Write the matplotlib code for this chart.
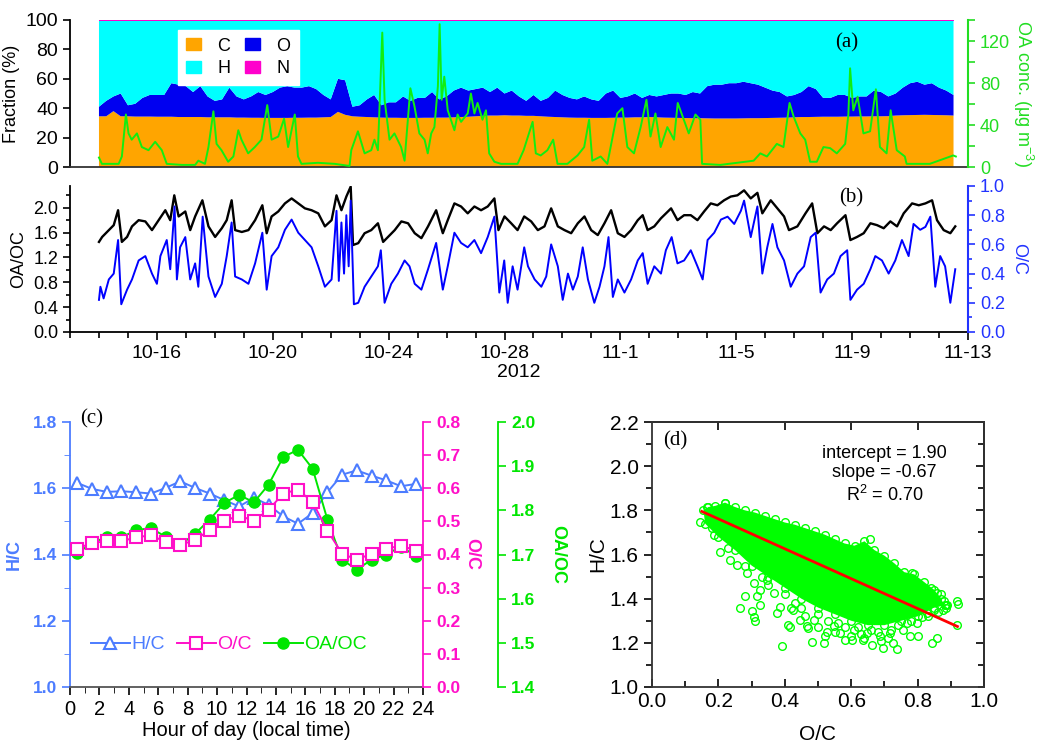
import numpy as np
import matplotlib.pyplot as plt
from matplotlib.patches import Patch
from matplotlib.ticker import MultipleLocator, FixedLocator, FormatStrFormatter

plt.rcParams['font.family'] = ['Liberation Sans', 'DejaVu Sans']
plt.rcParams['mathtext.fontset'] = 'custom'
plt.rcParams['mathtext.rm'] = 'Liberation Sans'
plt.rcParams['axes.linewidth'] = 1.3
SERIF = ['Liberation Serif', 'DejaVu Serif']

# ---------------- panel (a): elemental fractions (6-hourly, from Oct 14 00:00) ----------------
o_top = [41, 45, 48, 50, 42, 43, 47, 49, 49, 49,
         57, 56, 55, 51, 55, 48, 45, 46, 54, 48,
         46, 48, 51, 49, 51, 54, 55, 54, 54, 55,
         53, 49, 46, 60, 59, 41, 42, 46, 49, 42,
         44, 44, 48, 45, 47, 47, 51, 46, 48, 52,
         54, 52, 53, 54, 51, 54, 50, 52, 48, 45,
         49, 45, 47, 52, 49, 47, 46, 48, 46, 45,
         50, 52, 47, 48, 50, 47, 49, 48, 49, 50,
         50, 49, 51, 50, 55, 56, 56, 57, 57, 58,
         57, 56, 54, 52, 51, 48, 49, 51, 55, 53,
         47, 47, 49, 49, 47, 48, 48, 52, 51, 48,
         50, 54, 57, 58, 56, 57, 54, 52, 49]
c_frac = [34.5, 34.5, 38.0, 34.5, 34.5, 34.3, 34.3, 34.3, 34.2, 34.2,
          34.2, 34.0, 34.0, 34.0, 34.0, 33.8, 33.8, 33.8, 33.8, 33.6,
          33.6, 33.5, 33.5, 33.4, 33.4, 33.4, 33.4, 33.5, 33.5, 33.6,
          33.6, 33.8, 34.0, 37.5, 35.5, 34.5, 34.2, 34.0, 33.8, 33.6,
          33.5, 33.5, 33.4, 33.4, 33.4, 33.5, 33.5, 33.6, 33.6, 33.8,
          34.0, 34.2, 34.5, 34.8, 35.0, 35.0, 35.2, 35.0, 35.0, 34.8,
          34.8, 34.5, 34.2, 34.0, 33.8, 33.6, 33.5, 33.5, 33.4, 33.4,
          33.4, 33.5, 33.6, 33.6, 33.8, 33.8, 34.0, 33.8, 33.6, 33.5,
          33.4, 33.3, 33.2, 33.2, 33.1, 33.0, 33.0, 33.0, 33.0, 33.1,
          33.2, 33.2, 33.3, 33.4, 33.5, 33.6, 33.8, 34.0, 34.0, 34.1,
          34.2, 34.2, 34.2, 34.3, 34.3, 34.4, 34.4, 34.5, 34.5, 34.6,
          35.0, 35.2, 35.3, 35.4, 35.5, 35.4, 35.3, 35.2, 35.0]
n_frac = 0.6

# time axis: day number counted from Oct 0 (Nov 1 = 32)
oa_t = [14.0, 14.1, 14.68, 14.79, 14.93, 15.02, 15.13, 15.31, 15.48, 15.71,
        15.94, 16.17, 16.34, 16.86, 17.32, 17.43, 17.66, 17.78, 17.95, 18.06,
        18.23, 18.46, 18.64, 18.81, 18.92, 19.15, 19.38, 19.61, 19.81, 19.96,
        20.19, 20.39, 20.53, 20.76, 20.87, 20.99, 21.56, 22.14, 22.65, 22.71,
        22.94, 23.17, 23.40, 23.51, 23.63, 23.78, 23.86, 24.03, 24.20, 24.43,
        24.55, 24.75, 24.89, 25.06, 25.24, 25.35, 25.47, 25.58, 25.70, 25.76,
        25.83, 25.92, 26.04, 26.15, 26.27, 26.38, 26.50, 26.73, 26.84, 26.96,
        27.07, 27.24, 27.36, 27.47, 27.65, 27.88, 28.45, 28.66, 28.97, 29.08,
        29.25, 29.48, 29.68, 29.83, 30.17, 30.52, 30.75, 30.92, 31.03, 31.32,
        31.55, 31.89, 32.07, 32.24, 32.47, 32.70, 32.90, 33.04, 33.21, 33.39,
        33.62, 33.85, 33.98, 34.19, 34.36, 34.59, 34.76, 34.82, 35.45, 36.03,
        36.60, 36.83, 37.06, 37.40, 37.63, 37.84, 37.98, 38.21, 38.38, 38.55,
        38.78, 39.01, 39.24, 39.47, 39.76, 39.87, 39.93, 40.04, 40.19, 40.39,
        40.62, 40.82, 40.96, 41.19, 41.33, 41.54, 41.82, 41.88, 42.68, 43.49,
        43.58]
oa_conc = [9, 3, 3, 10, 50, 32, 26, 32, 19, 16,
           24, 16, 3, 2, 2, 6, 3, 19, 53, 22,
           16, 5, 10, 35, 26, 13, 19, 26, 59, 26,
           29, 46, 19, 50, 10, 3, 4, 3, 1, 16,
           34, 13, 16, 26, 16, 128, 64, 26, 32, 19,
           6, 75, 58, 32, 26, 13, 32, 38, 77, 136,
           64, 86, 54, 45, 35, 50, 43, 51, 70, 51,
           61, 45, 54, 13, 5, 3, 3, 16, 43, 13,
           11, 16, 26, 3, 3, 11, 19, 45, 6, 10,
           3, 51, 56, 19, 13, 38, 64, 29, 51, 19,
           38, 26, 61, 45, 32, 50, 45, 3, 2, 4,
           6, 13, 10, 22, 19, 61, 48, 32, 26, 5,
           5, 19, 18, 13, 22, 50, 94, 54, 67, 32,
           34, 74, 19, 13, 54, 16, 10, 3, 3, 11,
           10]

# ---------------- panel (b): OA/OC and O/C time series ----------------
oaoc_t = [14.0, 14.11, 14.34, 14.51, 14.66, 14.79, 14.97, 15.14, 15.37, 15.60,
          15.83, 16.06, 16.29, 16.46, 16.60, 16.75, 16.98, 17.15, 17.32, 17.57,
          17.78, 18.01, 18.24, 18.41, 18.58, 18.70, 18.93, 19.16, 19.39, 19.64,
          19.79, 19.96, 20.19, 20.42, 20.65, 20.88, 21.11, 21.34, 21.57, 21.80,
          22.03, 22.20, 22.37, 22.54, 22.69, 22.77, 22.95, 23.17, 23.40, 23.63,
          23.81, 23.98, 24.21, 24.44, 24.67, 24.90, 25.13, 25.36, 25.64, 25.87,
          26.04, 26.27, 26.50, 26.73, 26.96, 27.19, 27.42, 27.65, 27.79, 28.00,
          28.23, 28.45, 28.68,
          28.92, 29.15, 29.38, 29.61, 29.84, 30.07, 30.30, 30.53, 30.76, 30.99,
          31.22, 31.45, 31.68, 31.91, 32.14, 32.37, 32.60, 32.77, 32.94, 33.17,
          33.40, 33.75, 33.97, 34.20, 34.43, 34.66, 34.89, 35.12, 35.35, 35.58,
          35.81, 36.04, 36.27, 36.50, 36.73, 36.90, 37.19, 37.42, 37.65, 37.82,
          38.11, 38.39, 38.62, 38.80, 39.03, 39.26, 39.48, 39.77, 39.94, 40.17,
          40.40, 40.63, 40.86, 41.09, 41.32, 41.55, 41.78, 42.07, 42.30, 42.53,
          42.76, 42.93, 43.16, 43.39, 43.56]
oaoc = [1.45, 1.53, 1.64, 1.72, 1.96, 1.45, 1.53, 1.70, 1.80, 1.78,
        1.64, 1.80, 1.96, 1.80, 2.20, 1.86, 1.94, 1.64, 1.86, 2.12,
        1.70, 1.53, 1.67, 1.80, 2.12, 1.64, 1.61, 1.64, 1.80, 2.04,
        1.59, 1.86, 1.94, 2.07, 2.15, 2.07, 1.99, 1.96, 1.91, 1.70,
        1.80, 2.20, 1.96, 2.18, 2.34, 1.40, 1.43, 1.59, 1.64, 1.75,
        1.45, 1.53, 1.64, 1.78, 1.75, 1.59, 1.51, 1.70, 1.96, 1.59,
        1.80, 2.07, 2.02, 1.91, 2.02, 1.96, 2.02, 2.15, 1.64, 1.86,
        1.75, 1.64, 1.86,
        1.78, 1.64, 1.70, 1.99, 1.70, 1.64, 1.59, 1.75, 1.86, 1.64,
        1.56, 1.75, 1.96, 1.59, 1.53, 1.64, 1.80, 1.88, 1.64, 1.70,
        1.83, 1.99, 1.80, 1.88, 1.88, 1.80, 1.94, 2.07, 2.04, 2.12,
        2.18, 2.20, 2.28, 2.15, 2.24, 1.91, 2.12, 1.99, 1.86, 1.64,
        1.70, 1.91, 2.07, 1.59, 1.70, 1.64, 1.75, 1.88, 1.48, 1.53,
        1.59, 1.75, 1.72, 1.67, 1.78, 1.70, 1.91, 2.07, 2.04, 2.07,
        2.12, 1.80, 1.64, 1.59, 1.70]
oc_t = [14.0, 14.05, 14.16, 14.34, 14.51, 14.66, 14.77, 14.97, 15.14, 15.37,
        15.60, 15.83, 16.00, 16.12, 16.34, 16.46, 16.61, 16.69, 16.80, 16.98,
        17.15, 17.32, 17.43, 17.58, 17.78, 18.01, 18.24, 18.41, 18.58, 18.70,
        18.93, 19.16, 19.39, 19.64, 19.79, 19.96, 20.19, 20.42, 20.65, 20.88,
        21.11, 21.34, 21.57, 21.80, 22.03, 22.20, 22.28, 22.37, 22.46, 22.54,
        22.62, 22.69, 22.80, 22.95, 23.17, 23.40, 23.63, 23.73, 23.86, 24.09,
        24.32, 24.55, 24.72, 24.90, 25.13, 25.36, 25.64, 25.87, 26.04, 26.27,
        26.50, 26.73, 26.96, 27.19, 27.42, 27.65, 27.82, 27.99, 28.11, 28.28,
        28.45, 28.68,
        28.81, 29.04, 29.27, 29.44, 29.61, 29.84, 30.01, 30.19, 30.36, 30.53,
        30.70, 30.88, 31.10, 31.28, 31.45, 31.59, 31.74, 31.91, 32.14, 32.37,
        32.60, 32.77, 32.94, 33.17, 33.40, 33.57, 33.77, 33.97, 34.20, 34.43,
        34.66, 34.84, 35.01, 35.24, 35.47, 35.70, 35.93, 36.16, 36.27, 36.50,
        36.73, 36.90, 37.07, 37.25, 37.42, 37.65, 37.88, 38.11, 38.34, 38.57,
        38.74, 38.91, 39.14, 39.37, 39.60, 39.83, 39.94, 40.17, 40.40, 40.63,
        40.80, 41.03, 41.26, 41.49, 41.72, 41.95, 42.12, 42.35, 42.53, 42.70,
        42.87, 43.04, 43.21, 43.39, 43.56]
oc = [0.22, 0.31, 0.23, 0.36, 0.40, 0.63, 0.19, 0.29, 0.36, 0.49,
      0.52, 0.40, 0.33, 0.52, 0.63, 0.43, 0.86, 0.36, 0.58, 0.65,
      0.36, 0.47, 0.31, 0.79, 0.38, 0.24, 0.33, 0.52, 0.75, 0.38,
      0.36, 0.33, 0.47, 0.68, 0.29, 0.52, 0.58, 0.70, 0.77, 0.68,
      0.63, 0.58, 0.45, 0.31, 0.36, 0.83, 0.35, 0.75, 0.40, 0.80,
      0.45, 0.90, 0.19, 0.20, 0.31, 0.38, 0.45, 0.56, 0.20, 0.33,
      0.40, 0.49, 0.45, 0.33, 0.29, 0.43, 0.61, 0.29, 0.45, 0.68,
      0.61, 0.58, 0.63, 0.54, 0.65, 0.79, 0.27, 0.49, 0.20, 0.45,
      0.29, 0.58,
      0.45, 0.36, 0.31, 0.38, 0.60, 0.45, 0.22, 0.40, 0.29, 0.38,
      0.58, 0.36, 0.20, 0.31, 0.45, 0.65, 0.24, 0.36, 0.27, 0.36,
      0.49, 0.54, 0.33, 0.45, 0.40, 0.56, 0.65, 0.47, 0.49, 0.56,
      0.45, 0.36, 0.63, 0.68, 0.77, 0.79, 0.74, 0.83, 0.90, 0.65,
      0.86, 0.40, 0.58, 0.74, 0.58, 0.49, 0.31, 0.40, 0.45, 0.65,
      0.68, 0.27, 0.36, 0.40, 0.52, 0.56, 0.22, 0.29, 0.33, 0.43,
      0.52, 0.49, 0.40, 0.49, 0.63, 0.52, 0.74, 0.70, 0.72, 0.79,
      0.31, 0.52, 0.45, 0.20, 0.43]
date_ticks = [16, 20, 24, 28, 32, 36, 40, 44]
date_labels = ['10-16', '10-20', '10-24', '10-28', '11-1', '11-5', '11-9', '11-13']

# ---------------- panel (c): diurnal cycles ----------------
hours = [0.5, 1.5, 2.5, 3.5, 4.5, 5.5, 6.5, 7.5, 8.5, 9.5, 10.5, 11.5,
         12.5, 13.5, 14.5, 15.5, 16.5, 17.5, 18.5, 19.5, 20.5, 21.5, 22.5, 23.5]
hc_diurnal = [1.616, 1.598, 1.589, 1.591, 1.588, 1.584, 1.601, 1.621, 1.601, 1.584, 1.564, 1.545,
              1.571, 1.550, 1.515, 1.493, 1.525, 1.588, 1.641, 1.654, 1.638, 1.624, 1.606, 1.613]
oc_diurnal = [0.418, 0.435, 0.440, 0.440, 0.452, 0.458, 0.438, 0.428, 0.445, 0.473, 0.502, 0.517,
              0.502, 0.535, 0.584, 0.596, 0.558, 0.472, 0.403, 0.384, 0.403, 0.417, 0.427, 0.412]
oaoc_diurnal = [1.703, 1.726, 1.740, 1.739, 1.755, 1.760, 1.740, 1.722, 1.747, 1.779, 1.817, 1.835,
                1.818, 1.858, 1.921, 1.937, 1.894, 1.779, 1.688, 1.666, 1.688, 1.700, 1.718, 1.697]

# ---------------- panel (d): van Krevelen scatter ----------------
cloud_top_x = [0.155, 0.17, 0.19, 0.22, 0.25, 0.28, 0.31, 0.34, 0.37, 0.40, 0.43, 0.46, 0.49, 0.52,
               0.55, 0.58, 0.61, 0.64, 0.67, 0.70, 0.73, 0.76, 0.79, 0.82, 0.85, 0.87, 0.885]
cloud_top_y = [1.80, 1.815, 1.82, 1.835, 1.815, 1.80, 1.79, 1.775, 1.76, 1.745, 1.735, 1.72, 1.705, 1.69,
               1.67, 1.65, 1.64, 1.66, 1.62, 1.595, 1.56, 1.52, 1.51, 1.475, 1.44, 1.40, 1.36]
cloud_low_x = [0.16, 0.20, 0.25, 0.30, 0.35, 0.40, 0.45, 0.50, 0.55, 0.60, 0.65, 0.70, 0.75, 0.80, 0.85, 0.885]
cloud_low_y = [1.74, 1.68, 1.62, 1.55, 1.50, 1.45, 1.40, 1.36, 1.33, 1.30, 1.28, 1.28, 1.30, 1.32, 1.36, 1.37]
sparse_x = [0.145, 0.166, 0.186, 0.206, 0.221, 0.236, 0.256, 0.286, 0.306, 0.326,
            0.346, 0.366, 0.281, 0.316, 0.266, 0.301, 0.306, 0.311, 0.324, 0.391,
            0.376, 0.386, 0.416, 0.411, 0.426, 0.446, 0.466, 0.471, 0.487, 0.481,
            0.517, 0.522, 0.527, 0.547, 0.567, 0.582, 0.602, 0.607, 0.637, 0.647,
            0.662, 0.687, 0.697, 0.717, 0.727, 0.737, 0.757, 0.767, 0.777, 0.797,
            0.802, 0.812, 0.827, 0.843, 0.848, 0.858, 0.858, 0.878, 0.883, 0.918,
            0.923, 0.918, 0.782, 0.657, 0.40, 0.43, 0.45, 0.50, 0.53, 0.56,
            0.58, 0.62, 0.66, 0.68, 0.72, 0.74, 0.78, 0.83, 0.86, 0.88,
            0.87, 0.84, 0.89, 0.35, 0.33, 0.28, 0.23, 0.18, 0.60, 0.63,
            0.69, 0.71, 0.64, 0.55, 0.50, 0.46, 0.42]
sparse_y = [1.749, 1.816, 1.688, 1.613, 1.834, 1.575, 1.553, 1.518, 1.470, 1.440,
            1.485, 1.425, 1.413, 1.413, 1.357, 1.342, 1.316, 1.301, 1.372, 1.184,
            1.334, 1.364, 1.271, 1.282, 1.349, 1.304, 1.274, 1.266, 1.304, 1.206,
            1.199, 1.229, 1.251, 1.274, 1.244, 1.214, 1.214, 1.259, 1.214, 1.244,
            1.191, 1.229, 1.176, 1.244, 1.199, 1.172, 1.259, 1.289, 1.229, 1.289,
            1.229, 1.319, 1.334, 1.199, 1.349, 1.221, 1.425, 1.349, 1.372, 1.390,
            1.377, 1.282, 1.515, 1.669, 1.42, 1.38, 1.36, 1.33, 1.30, 1.29,
            1.27, 1.27, 1.26, 1.25, 1.26, 1.28, 1.30, 1.32, 1.34, 1.39,
            1.42, 1.45, 1.37, 1.46, 1.50, 1.55, 1.63, 1.72, 1.23, 1.24,
            1.21, 1.22, 1.22, 1.25, 1.27, 1.32, 1.36]
fit_x = [0.15, 0.92]
fit_y = [1.795, 1.274]

COL_C = '#FFA500'
COL_O = '#0000F0'
COL_H = '#00FFFF'
COL_N = '#FF00CC'
COL_GREEN = '#11EE11'
COL_GREEN_TXT = '#22DD22'
COL_HC = '#4C7CFF'
COL_OC = '#FF10C8'
COL_OAOC = '#00E600'

W, H = 1051, 745


def box(left, top, right, bottom):
    return [left / W, 1 - bottom / H, (right - left) / W, (bottom - top) / H]


def colour_axis(ax, side, color):
    ax.spines[side].set_color(color)
    ax.tick_params(axis='y', which='both', colors=color)


fig = plt.figure(figsize=(10.51, 7.45), dpi=100)

# ---- (a)
ax_a = fig.add_axes(box(70, 20, 968, 167))
t_grid = 14 + 0.25 * np.arange(len(o_top))
c_arr = np.array(c_frac)
o_arr = np.array(o_top) - c_arr
n_arr = np.full(len(c_arr), n_frac)
h_arr = 100 - c_arr - o_arr - n_arr
ax_a.stackplot(t_grid, c_arr, o_arr, h_arr, n_arr, colors=[COL_C, COL_O, COL_H, COL_N], linewidth=0)
ax_a.set_xlim(13, 44)
ax_a.set_ylim(0, 100)
ax_a.set_yticks(range(0, 101, 20))
ax_a.set_xticks([])
ax_a.tick_params(axis='y', labelsize=14, length=5, width=1.2)
ax_a.set_ylabel('Fraction (%)', fontsize=13, labelpad=4)
ax_a.spines['top'].set_visible(False)
ax_a.spines['right'].set_visible(False)
ax_a.spines['bottom'].set_color('#333333')

ax_a2 = ax_a.twinx()
ax_a2.plot(oa_t, oa_conc, color=COL_GREEN, lw=1.4)
ax_a2.set_ylim(0, 140)
ax_a2.set_yticks([0, 40, 80, 120])
ax_a2.yaxis.set_minor_locator(FixedLocator([20, 60, 100, 140]))
for s in ('top', 'left', 'bottom'):
    ax_a2.spines[s].set_visible(False)
colour_axis(ax_a2, 'right', COL_GREEN_TXT)
ax_a2.spines['right'].set_linewidth(1.5)
ax_a2.tick_params(axis='y', labelsize=13, length=5, width=1.2)
ax_a2.tick_params(axis='y', which='minor', length=5, width=1.2)
ax_a2.set_ylabel('OA conc. (μg m$^{-3}$)', fontsize=13, color=COL_GREEN_TXT, rotation=270, labelpad=18)
ax_a2.text(0.865, 0.843, '(a)', transform=ax_a2.transAxes, family=SERIF, fontsize=15,
           ha='center', va='center')
handles = [Patch(color=COL_C), Patch(color=COL_H), Patch(color=COL_O), Patch(color=COL_N)]
ax_a2.legend(handles, ['C', 'H', 'O', 'N'], ncol=2, loc='upper left',
             bbox_to_anchor=(0.12, 0.935), frameon=True, fancybox=False, framealpha=1,
             facecolor='white', edgecolor='white', fontsize=13, handlelength=0.85,
             handleheight=0.65, handletextpad=0.9, columnspacing=0.8, borderpad=0.45,
             labelspacing=0.3, borderaxespad=0)

# ---- (b)
ax_b = fig.add_axes(box(70, 186, 968, 332))
ax_b.plot(oaoc_t, oaoc, color='black', lw=1.7)
ax_b.set_xlim(13, 44)
ax_b.set_ylim(0, 2.35)
ax_b.set_yticks([0.0, 0.4, 0.8, 1.2, 1.6, 2.0])
ax_b.yaxis.set_major_formatter(FormatStrFormatter('%.1f'))
ax_b.yaxis.set_minor_locator(MultipleLocator(0.2))
ax_b.set_xticks(date_ticks)
ax_b.set_xticklabels(date_labels)
ax_b.xaxis.set_minor_locator(MultipleLocator(1))
ax_b.tick_params(axis='x', labelsize=14, length=6, width=1.2)
ax_b.tick_params(axis='x', which='minor', length=4, width=1.2)
ax_b.tick_params(axis='y', labelsize=13, length=5, width=1.2)
ax_b.tick_params(axis='y', which='minor', length=3, width=1.2)
ax_b.set_xlabel('2012', fontsize=14, labelpad=1)
ax_b.set_ylabel('OA/OC', fontsize=13, labelpad=4)
ax_b.spines['top'].set_visible(False)
ax_b.spines['right'].set_visible(False)

ax_b2 = ax_b.twinx()
ax_b2.plot(oc_t, oc, color='#0000FF', lw=1.4)
ax_b2.set_ylim(0, 1.0)
ax_b2.set_yticks([0.0, 0.2, 0.4, 0.6, 0.8, 1.0])
ax_b2.yaxis.set_major_formatter(FormatStrFormatter('%.1f'))
ax_b2.yaxis.set_minor_locator(MultipleLocator(0.1))
for s in ('top', 'left', 'bottom'):
    ax_b2.spines[s].set_visible(False)
colour_axis(ax_b2, 'right', '#2233FF')
ax_b2.spines['right'].set_linewidth(1.5)
ax_b2.tick_params(axis='y', labelsize=13, length=5, width=1.2)
ax_b2.tick_params(axis='y', which='minor', length=3, width=1.2)
ax_b2.set_ylabel('O/C', fontsize=13, color='#2233FF', rotation=270, labelpad=16)
ax_b2.text(0.87, 0.918, '(b)', transform=ax_b2.transAxes, family=SERIF, fontsize=15,
           ha='center', va='center')

# ---- (c)
ax_c = fig.add_axes(box(70, 422, 423, 687))
l_hc, = ax_c.plot(hours, hc_diurnal, color=COL_HC, marker='^', ms=8, mfc='white', mew=1.5,
                  lw=1.4, label='H/C')
ax_c.set_xlim(0, 24)
ax_c.set_ylim(1.0, 1.8)
ax_c.set_xticks(range(0, 25, 2))
ax_c.xaxis.set_minor_locator(MultipleLocator(1))
ax_c.set_yticks([1.0, 1.2, 1.4, 1.6, 1.8])
ax_c.yaxis.set_major_formatter(FormatStrFormatter('%.1f'))
ax_c.yaxis.set_minor_locator(MultipleLocator(0.1))
ax_c.spines['top'].set_visible(False)
ax_c.spines['right'].set_visible(False)
ax_c.spines['bottom'].set_color('#555555')
colour_axis(ax_c, 'left', COL_HC)
ax_c.tick_params(axis='y', labelsize=12.5, length=6, width=1.2)
ax_c.tick_params(axis='y', which='minor', length=4)
ax_c.tick_params(axis='x', labelsize=14.5, length=6, width=1.2, colors='black')
ax_c.tick_params(axis='x', which='minor', length=4)
for lab in ax_c.get_yticklabels():
    lab.set_fontweight('bold')
ax_c.set_ylabel('H/C', fontsize=13, color=COL_HC, fontweight='bold', labelpad=7)
ax_c.set_xlabel('Hour of day (local time)', fontsize=14.5, labelpad=1)
ax_c.text(0.062, 1.011, '(c)', transform=ax_c.transAxes, family=SERIF, fontsize=15,
          ha='center', va='center')

ax_c3 = ax_c.twinx()
l_oaoc, = ax_c3.plot(hours, oaoc_diurnal, color=COL_OAOC, marker='o', ms=8, lw=1.4, label='OA/OC')
ax_c3.set_ylim(1.4, 2.0)
ax_c3.set_yticks([1.4, 1.5, 1.6, 1.7, 1.8, 1.9, 2.0])
ax_c3.yaxis.set_major_formatter(FormatStrFormatter('%.1f'))
ax_c3.spines['right'].set_position(('outward', 54))
for s in ('top', 'left', 'bottom'):
    ax_c3.spines[s].set_visible(False)
colour_axis(ax_c3, 'right', COL_OAOC)
ax_c3.tick_params(axis='y', labelsize=12.5, length=6, width=1.2)
for lab in ax_c3.get_yticklabels():
    lab.set_fontweight('bold')
ax_c3.set_ylabel('OA/OC', fontsize=13, color=COL_OAOC, fontweight='bold', rotation=270, labelpad=22)

ax_c2 = ax_c.twinx()
l_oc, = ax_c2.plot(hours, oc_diurnal, color=COL_OC, marker='s', ms=8, mfc='white', mew=1.5,
                   lw=1.4, label='O/C')
ax_c2.set_ylim(0, 0.8)
ax_c2.set_yticks([0.0, 0.1, 0.2, 0.3, 0.4, 0.5, 0.6, 0.7, 0.8])
ax_c2.yaxis.set_major_formatter(FormatStrFormatter('%.1f'))
for s in ('top', 'left', 'bottom'):
    ax_c2.spines[s].set_visible(False)
colour_axis(ax_c2, 'right', COL_OC)
ax_c2.tick_params(axis='y', labelsize=12.5, length=6, width=1.2)
for lab in ax_c2.get_yticklabels():
    lab.set_fontweight('bold')
ax_c2.set_ylabel('O/C', fontsize=13, color=COL_OC, fontweight='bold', rotation=270, labelpad=14)
ax_c3.set_zorder(ax_c.get_zorder() + 1)
ax_c2.set_zorder(ax_c.get_zorder() + 2)
ax_c2.legend([l_hc, l_oc, l_oaoc], ['H/C', 'O/C', 'OA/OC'], ncol=3, loc='center',
             bbox_to_anchor=(0.45, 0.16), frameon=False, fontsize=14, handlelength=2.0,
             handletextpad=0.1, columnspacing=0.6, labelcolor='linecolor')

# ---- (d)
ax_d = fig.add_axes(box(652, 422, 984, 687))
ax_d.fill(cloud_top_x + cloud_low_x[::-1], cloud_top_y + cloud_low_y[::-1],
          color='#00FF00', lw=0)
for xs, ys in ((cloud_top_x, cloud_top_y), (cloud_low_x, cloud_low_y), (sparse_x, sparse_y)):
    ax_d.plot(xs, ys, ls='none', marker='o', ms=5.5, mfc='none', mec='#00FF00', mew=1.0)
ax_d.plot(fit_x, fit_y, color='#FF0000', lw=2)
ax_d.set_xlim(0, 1.0)
ax_d.set_ylim(1.0, 2.2)
ax_d.set_xticks([0.0, 0.2, 0.4, 0.6, 0.8, 1.0])
ax_d.set_yticks([1.0, 1.2, 1.4, 1.6, 1.8, 2.0, 2.2])
ax_d.xaxis.set_major_formatter(FormatStrFormatter('%.1f'))
ax_d.yaxis.set_major_formatter(FormatStrFormatter('%.1f'))
ax_d.xaxis.set_minor_locator(MultipleLocator(0.1))
ax_d.yaxis.set_minor_locator(MultipleLocator(0.1))
ax_d.tick_params(axis='x', direction='in', labelsize=15, length=6, width=1.2)
ax_d.tick_params(axis='x', which='minor', direction='in', length=4, width=1.2)
ax_d.tick_params(axis='y', direction='out', labelsize=15, length=6, width=1.2)
ax_d.tick_params(axis='y', which='minor', direction='out', length=4, width=1.2)
for s in ax_d.spines.values():
    s.set_color('#333333')
sec_top = ax_d.secondary_xaxis('top')
sec_top.set_xticks([0.2, 0.4, 0.6, 0.8])
sec_top.tick_params(direction='in', length=6, width=1.2, labeltop=False)
sec_right = ax_d.secondary_yaxis('right')
sec_right.set_yticks([1.2, 1.4, 1.6, 1.8, 2.0])
sec_right.yaxis.set_minor_locator(MultipleLocator(0.1))
sec_right.tick_params(which='both', direction='in', length=6, width=1.2, labelright=False)
sec_right.tick_params(which='minor', length=4)
ax_d.set_xlabel('O/C', fontsize=15, labelpad=10)
ax_d.set_ylabel('H/C', fontsize=15, labelpad=2)
ax_d.text(0.07, 0.93, '(d)', transform=ax_d.transAxes, family=SERIF, fontsize=15,
          ha='center', va='center')
ax_d.text(0.70, 0.883, 'intercept = 1.90', transform=ax_d.transAxes, fontsize=13, ha='center', va='center')
ax_d.text(0.70, 0.811, 'slope = -0.67', transform=ax_d.transAxes, fontsize=13, ha='center', va='center')
ax_d.text(0.70, 0.725, 'R$^2$ = 0.70', transform=ax_d.transAxes, fontsize=13, ha='center', va='center')

fig.savefig('out.png', dpi=100)
